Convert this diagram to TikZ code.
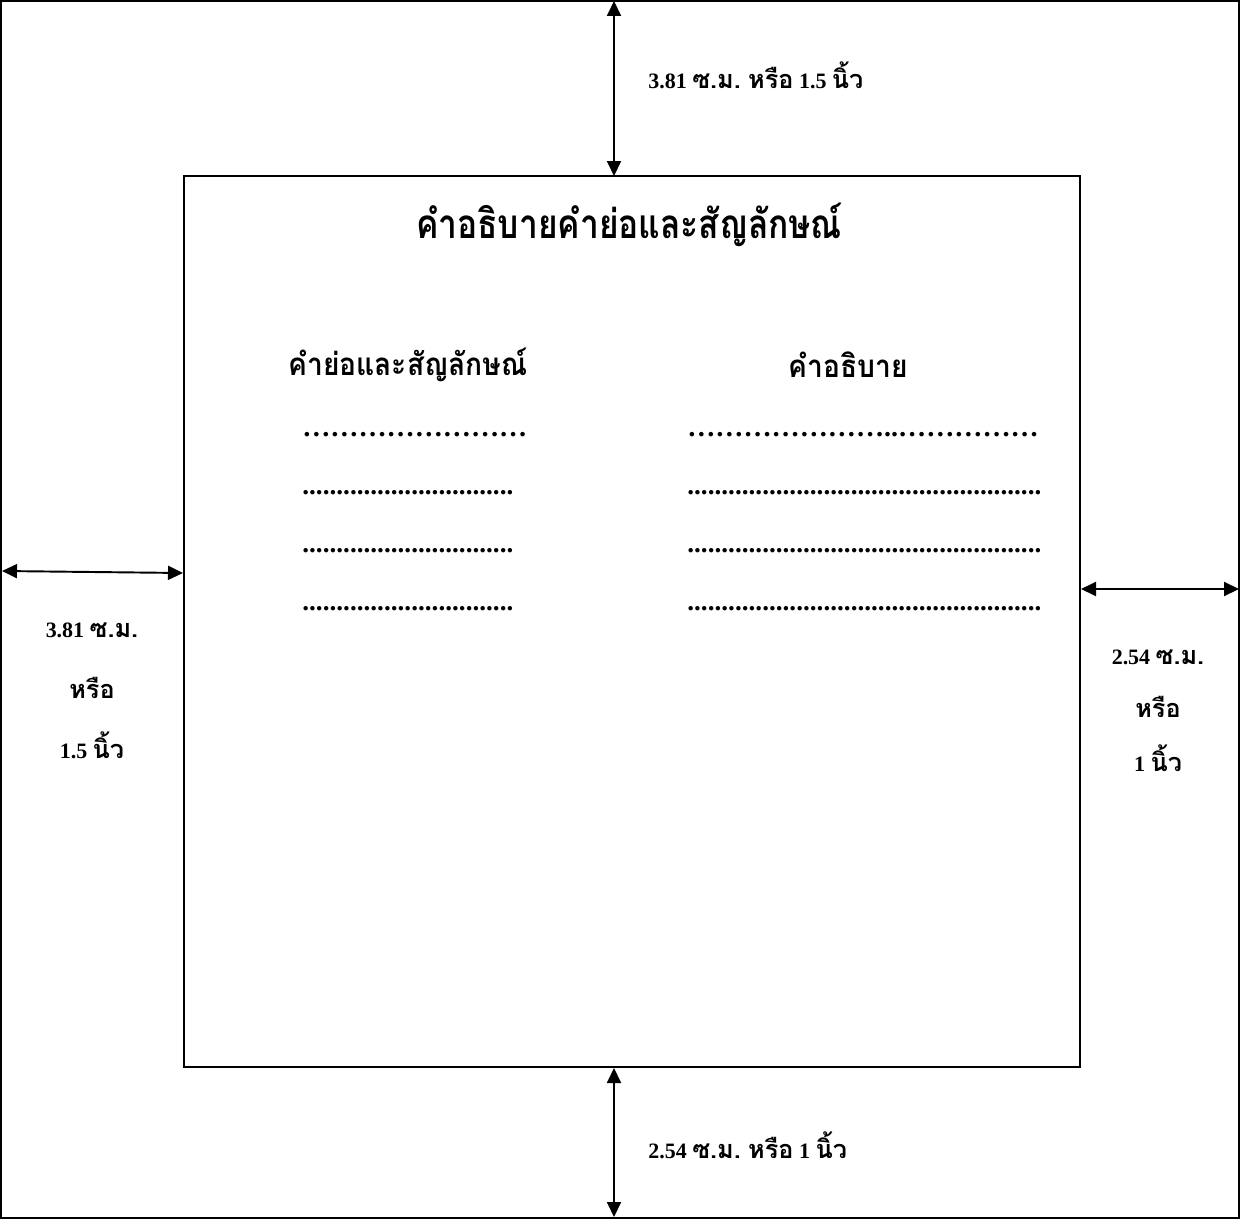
\documentclass[tikz,border=0pt]{standalone}
\usepackage{fontspec}
\setmainfont{Liberation Serif}
\newfontfamily\thai[Script=Thai,Scale=1.15]{Loma}
\usetikzlibrary{positioning}
\usetikzlibrary{arrows.meta}

\begin{document}
\begin{tikzpicture}[x=0.02cm,y=-0.02cm,on grid,
    frame/.style={draw,line width=1.1pt},
    dim/.style={<->,>={Triangle[length=0.3cm,width=0.28cm]},line width=1.1pt},
    lbl/.style={font=\bfseries\fontsize{12.5}{15}\selectfont,inner sep=0pt},
    title/.style={font=\bfseries\fontsize{20}{24}\selectfont\thai\addfontfeature{FakeStretch=0.83},inner sep=0pt},
    head/.style={font=\bfseries\fontsize{15.5}{18}\selectfont\thai\addfontfeature{FakeStretch=0.9},inner sep=0pt},
    dotrow/.style={font=\bfseries\fontsize{16}{18}\selectfont,inner sep=0pt,anchor=west},
    fillrow/.style={font=\bfseries\fontsize{15.5}{18}\selectfont,inner sep=0pt,anchor=west}]
   \useasboundingbox (0,0) rectangle (1240,1220);
   \draw[frame] (1,1) rectangle (1239,1218);
   \node[frame,minimum width=17.92cm,minimum height=17.82cm,inner sep=0pt] (page) at (632,621.5) {};

   \coordinate (top_o) at (614,1);
   \coordinate (top_i) at (614,176);
   \coordinate (left_o) at (2,571);
   \coordinate (left_i) at (183,573);
   \coordinate (right_i) at (1081,589);
   \coordinate (right_o) at (1239,589);
   \coordinate (bot_i) at (614,1068);
   \coordinate (bot_o) at (614,1217);

   \draw[dim] (top_o) -- (top_i);
   \draw[dim] (left_o) -- (left_i);
   \draw[dim] (right_i) -- (right_o);
   \draw[dim] (bot_i) -- (bot_o);

   \node[lbl,anchor=west] (top_lbl) at (648,75) {3.81 {\thai ซ.ม.} {\thai หรือ} 1.5 {\thai นิ้ว}};
   \node[lbl] (left_a) at (92,630) {3.81 {\thai ซ.ม.}};
   \node[lbl] (left_b) [below=1.15cm of left_a] {\thai หรือ};
   \node[lbl] (left_c) [below=1.15cm of left_b] {1.5 {\thai นิ้ว}};
   \node[lbl] (right_a) at (1158,657) {2.54 {\thai ซ.ม.}};
   \node[lbl] (right_b) [below=1cm of right_a] {\thai หรือ};
   \node[lbl] (right_c) [below=1.03cm of right_b] {1 {\thai นิ้ว}};
   \node[lbl,anchor=west] (bot_lbl) at (648,1145) {2.54 {\thai ซ.ม.} {\thai หรือ} 1 {\thai นิ้ว}};

   \node[title] (head_main) at (629,225) {คำอธิบายคำย่อและสัญลักษณ์};
   \node[head,anchor=west] (head_abbr) at (288,365) {คำย่อและสัญลักษณ์};
   \node[head] (head_desc) at (848,365) {คำอธิบาย};

   \node[dotrow] (abbr_1) at (302,435) {……………………};
   \node[fillrow] (abbr_2) [below=1.16cm of abbr_1.west,anchor=west] {...............................};
   \node[fillrow] (abbr_3) [below=1.16cm of abbr_2.west,anchor=west] {...............................};
   \node[fillrow] (abbr_4) [below=1.16cm of abbr_3.west,anchor=west] {...............................};
   \node[dotrow] (desc_1) at (687,435) {…………………..……………};
   \node[fillrow] (desc_2) [below=1.16cm of desc_1.west,anchor=west] {....................................................};
   \node[fillrow] (desc_3) [below=1.16cm of desc_2.west,anchor=west] {....................................................};
   \node[fillrow] (desc_4) [below=1.16cm of desc_3.west,anchor=west] {....................................................};
\end{tikzpicture}
\end{document}
